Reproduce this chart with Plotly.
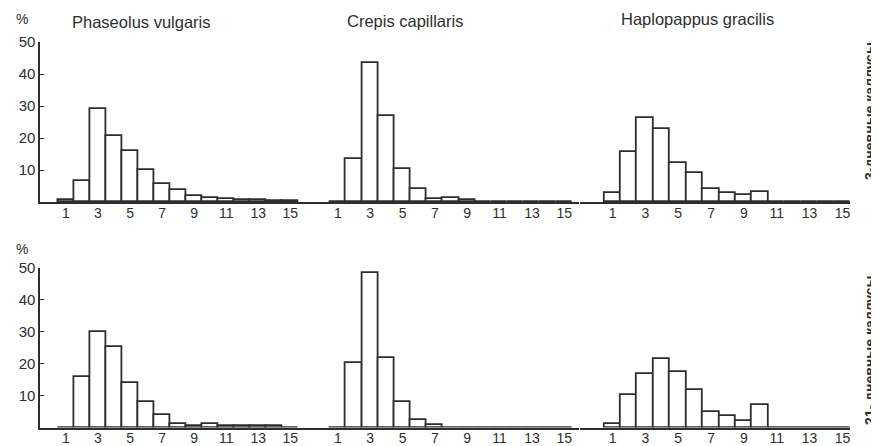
import plotly.graph_objects as go

classes = list(range(1, 16))
tick_vals = [1, 3, 5, 7, 9, 11, 13, 15]
tick_text = ["1", "3", "5", "7", "9", "11", "13", "15"]
y_ticks = [10, 20, 30, 40, 50]

species = ["Phaseolus vulgaris", "Crepis capillaris", "Haplopappus gracilis"]
row_labels = ["3-дневные каллусы", "21- дневные каллусы"]

phaseolus_3d = [0.5, 6.5, 29, 20.7, 16, 10, 5.7, 3.9, 2, 1.2, 0.8, 0.5, 0.6, 0.3, 0.3]
crepis_3d = [0, 13.5, 43.3, 27, 10.2, 4, 1, 1.2, 0.7, 0, 0, 0, 0, 0, 0]
haplo_3d = [2.8, 15.7, 26.3, 22.7, 12.3, 9.2, 4, 2.9, 2.1, 3.2, 0, 0, 0, 0, 0]
phaseolus_21d = [0, 15.8, 30, 25.2, 14, 8.1, 3.8, 1.2, 0.4, 1, 0.5, 0.5, 0.5, 0.4, 0]
crepis_21d = [0, 20.2, 48.3, 21.8, 7.9, 2.3, 0.8, 0, 0, 0, 0, 0, 0, 0, 0]
haplo_21d = [1.2, 10.3, 16.8, 21.5, 17.3, 11.8, 4.8, 3.7, 2, 6.9, 0, 0, 0, 0, 0]

series = [[phaseolus_3d, crepis_3d, haplo_3d], [phaseolus_21d, crepis_21d, haplo_21d]]

# page body has an 8px margin: figure sits at (8, 8) and fills the rest of the window
OX, OY = 8, 8
W, H = 879 - OX, 446 - OY
INK = "#2e2e2e"
FONT = "Liberation Sans"


def px_x(p):
    return (p - OX) / W


def px_y(p):
    return 1 - (p - OY) / H


# column layout: (x range, window pixel left, window pixel right)
cols = [
    ([-0.6, 15.7], 40.3, 301.5),
    ([-1.25, 15.9], 301.5, 578.8),
    ([-1.0, 15.45], 579.7, 849.8),
]
rows = [(202.0, 42.0), (427.5, 268.0)]  # window pixel y of value 0 and value 50

fig = go.Figure()
n = 0
for r in range(2):
    for c in range(3):
        n += 1
        xa = "x" if n == 1 else f"x{n}"
        ya = "y" if n == 1 else f"y{n}"
        vals = series[r][c]
        fig.add_trace(go.Bar(
            x=classes, y=vals, width=1,
            marker=dict(color="white", line=dict(color=INK, width=1.8)),
            xaxis=xa, yaxis=ya, showlegend=False,
        ))
        xr, pl, pr = cols[c]
        yb, yt = rows[r]
        xkey = "xaxis" if n == 1 else f"xaxis{n}"
        ykey = "yaxis" if n == 1 else f"yaxis{n}"
        fig.update_layout(**{
            xkey: dict(
                domain=[px_x(pl), px_x(pr)], range=xr, anchor=ya,
                tickvals=tick_vals, ticktext=tick_text, ticks="",
                ticklabelstandoff=-3,
                showgrid=False, zeroline=False, showline=True,
                linecolor=INK, linewidth=1.8, automargin=False,
                tickfont=dict(family=FONT, size=14, color=INK),
                fixedrange=True,
            ),
            ykey: dict(
                domain=[px_y(yb), px_y(yt)], range=[0, 50], anchor=xa,
                tickvals=y_ticks, showticklabels=(c == 0),
                ticks="inside" if c == 0 else "", ticklen=4, tickwidth=1.4, tickcolor=INK,
                showgrid=False, zeroline=False, showline=(c == 0),
                linecolor=INK, linewidth=1.8, automargin=False,
                tickfont=dict(family=FONT, size=15, color=INK),
                fixedrange=True,
            ),
        })

annotations = []
title_pos = [(141, 22), (405, 21), (697, 19)]
for name, (px, py) in zip(species, title_pos):
    annotations.append(dict(text=name, x=px_x(px), y=px_y(py), xref="paper", yref="paper",
                            showarrow=False, font=dict(family=FONT, size=16.5, color=INK),
                            xanchor="center", yanchor="middle"))
for py in (19, 249):
    annotations.append(dict(text="%", x=px_x(22), y=px_y(py), xref="paper", yref="paper",
                            showarrow=False, font=dict(family=FONT, size=14, color=INK),
                            xanchor="center", yanchor="middle"))
for lab, py in zip(row_labels, (111, 350)):
    annotations.append(dict(text="<b>" + lab + "</b>", x=px_x(870), y=px_y(py),
                            xref="paper", yref="paper",
                            showarrow=False, textangle=-90,
                            font=dict(family=FONT, size=14, color=INK),
                            xanchor="center", yanchor="middle"))

fig.update_layout(
    width=W, height=H, margin=dict(l=0, r=0, t=0, b=0, autoexpand=False),
    paper_bgcolor="white", plot_bgcolor="rgba(0,0,0,0)",
    bargap=0, annotations=annotations,
)

fig.write_html("out.html")
